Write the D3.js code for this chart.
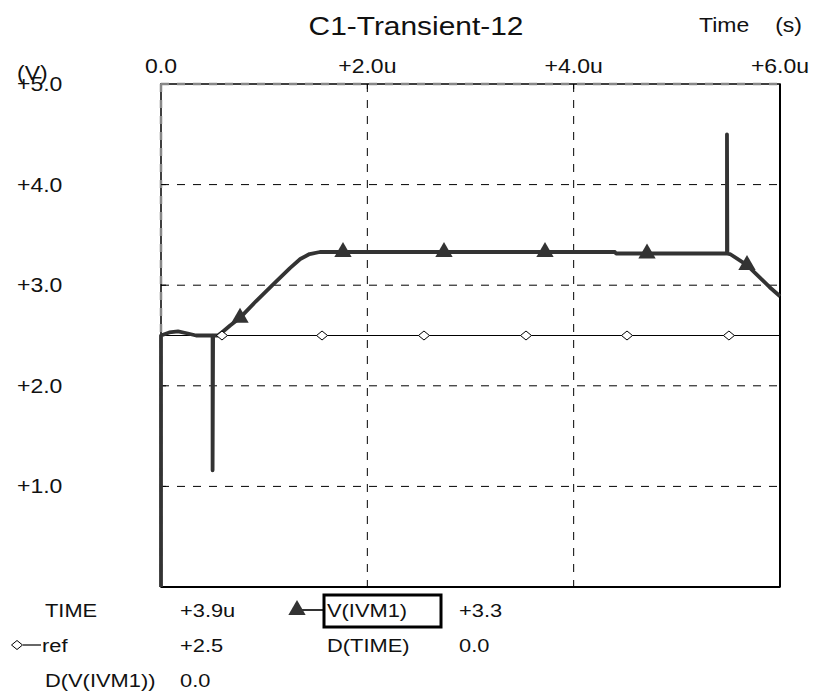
<!DOCTYPE html>
<html>
<head>
<meta charset="utf-8">
<script src="https://cdn.jsdelivr.net/npm/d3@7"></script>
<style>
  body { margin: 0; background: #fff; }
  text { font-family: "Liberation Sans", Arial, sans-serif; fill: #111; }
</style>
</head>
<body>
<svg id="chart"></svg>
<script>
const width = 814;
const height = 693;

// axis data (time in microseconds, voltage in volts)
const timeTicks = [0, 2, 4, 6];
const timeTickLabels = ["0.0", "+2.0u", "+4.0u", "+6.0u"];
const voltTicks = [1, 2, 3, 4, 5];
const voltTickLabels = ["+1.0", "+2.0", "+3.0", "+4.0", "+5.0"];

// V(IVM1) waveform
const vTime = [0, 0, 0.08, 0.165, 0.26, 0.34, 0.50, 0.50, 0.505, 0.55, 0.59, 0.67, 0.77, 0.92, 1.08, 1.25, 1.35, 1.44, 1.54, 4.40, 4.41, 5.486, 5.486, 5.49, 5.515, 5.68, 5.81, 5.90, 6.0];
const vVolt = [0, 2.5, 2.53, 2.54, 2.52, 2.5, 2.5, 1.16, 2.5, 2.5, 2.53, 2.6, 2.68, 2.84, 3.0, 3.17, 3.26, 3.31, 3.33, 3.33, 3.315, 3.315, 4.5, 3.315, 3.31, 3.2, 3.07, 2.98, 2.89];
const vMarkerTime = [0.766, 1.764, 2.743, 3.722, 4.711, 5.68];

// ref waveform
const refTime = [0, 6];
const refVolt = [2.5, 2.5];
const refMarkerTime = [0.591, 1.561, 2.549, 3.538, 4.517, 5.505];

// cursor readout
const readRow1 = ["TIME", "+3.9u", "V(IVM1)", "+3.3"];
const readRow2 = ["ref", "+2.5", "D(TIME)", "0.0"];
const readRow3 = ["D(V(IVM1))", "0.0"];

const plot = { left: 161, right: 780, top: 84, bottom: 587 };
const stretch = 1.15;
const waveColor = "#333";

const svg = d3.select("#chart").attr("width", width).attr("height", height);

const x = d3.scaleLinear().domain([0, 6]).range([plot.left, plot.right]);
const y = d3.scaleLinear().domain([0, 5]).range([plot.bottom, plot.top]);

function label(g, str, px, py, anchor, size) {
  return g.append("text")
    .attr("transform", `translate(${px},${py}) scale(${stretch},1)`)
    .attr("text-anchor", anchor)
    .attr("font-size", size + "px")
    .text(str);
}

// grid
const grid = svg.append("g");
grid.selectAll(".vgrid")
  .data(timeTicks.filter(t => t > 0 && t < 6))
  .join("line")
  .attr("x1", d => x(d)).attr("x2", d => x(d))
  .attr("y1", plot.top).attr("y2", plot.bottom)
  .attr("stroke", "#000").attr("stroke-width", 1).attr("stroke-dasharray", "8,8");
grid.selectAll(".hgrid")
  .data(voltTicks.filter(v => v < 5))
  .join("line")
  .attr("x1", plot.left).attr("x2", plot.right)
  .attr("y1", d => y(d)).attr("y2", d => y(d))
  .attr("stroke", "#000").attr("stroke-width", 1).attr("stroke-dasharray", "8,8");

// frame
svg.append("rect")
  .attr("x", plot.left).attr("y", plot.top)
  .attr("width", plot.right - plot.left).attr("height", plot.bottom - plot.top)
  .attr("fill", "none").attr("stroke", "#000").attr("stroke-width", 1.5);
svg.append("line")
  .attr("x1", plot.left).attr("x2", plot.right).attr("y1", plot.top).attr("y2", plot.top)
  .attr("stroke", "#888").attr("stroke-width", 2.5).attr("stroke-dasharray", "8,8");
svg.append("line")
  .attr("x1", plot.left).attr("x2", plot.left).attr("y1", plot.top).attr("y2", plot.bottom)
  .attr("stroke", "#888").attr("stroke-width", 2.5).attr("stroke-dasharray", "8,8");
svg.append("line")
  .attr("x1", plot.right).attr("x2", plot.right).attr("y1", plot.top).attr("y2", plot.bottom)
  .attr("stroke", "#000").attr("stroke-width", 2);
svg.append("line")
  .attr("x1", plot.left).attr("x2", plot.right).attr("y1", plot.bottom).attr("y2", plot.bottom)
  .attr("stroke", "#000").attr("stroke-width", 2);

// small ticks
svg.selectAll(".xt")
  .data(timeTicks.filter(t => t > 0 && t < 6))
  .join("line")
  .attr("x1", d => x(d)).attr("x2", d => x(d))
  .attr("y1", plot.top).attr("y2", plot.top + 5)
  .attr("stroke", "#000");
svg.selectAll(".yt")
  .data(voltTicks.filter(v => v < 5))
  .join("line")
  .attr("x1", plot.left).attr("x2", plot.left + 5)
  .attr("y1", d => y(d)).attr("y2", d => y(d))
  .attr("stroke", "#000");

// tick labels
timeTicks.forEach((t, i) => label(svg, timeTickLabels[i], x(t), 73, "middle", 20));
voltTicks.forEach((v, i) => label(svg, voltTickLabels[i], 17, y(v) + 7, "start", 20));
label(svg, "(V)", 17, 80, "start", 20);

// title
label(svg, "C1-Transient-12", 416, 35, "middle", 26);
label(svg, "Time", 699, 32, "start", 20);
label(svg, "(s)", 802, 32, "end", 20);

// waveforms
const line = d3.line().x(d => x(d[0])).y(d => y(d[1]));

svg.append("path")
  .datum(d3.zip(refTime, refVolt))
  .attr("d", line)
  .attr("fill", "none").attr("stroke", "#000").attr("stroke-width", 1.2);

svg.append("path")
  .datum(d3.zip(vTime, vVolt))
  .attr("d", line)
  .attr("fill", "none").attr("stroke", waveColor)
  .attr("stroke-width", 3.8).attr("stroke-linejoin", "round");

// value of V(IVM1) at a given time, from the series
function vAt(t) {
  const i = d3.bisectRight(vTime, t);
  const t0 = vTime[i - 1], t1 = vTime[i];
  return vVolt[i - 1] + (vVolt[i] - vVolt[i - 1]) * (t - t0) / (t1 - t0);
}

const tri = d3.symbol(d3.symbolTriangle, 130);
svg.selectAll(".vmark")
  .data(vMarkerTime)
  .join("path")
  .attr("d", tri)
  .attr("transform", d => `translate(${x(d)},${y(vAt(d))})`)
  .attr("fill", waveColor);

const diamond = "M-5.5,0L0,-4.5L5.5,0L0,4.5Z";
svg.selectAll(".rmark")
  .data(refMarkerTime)
  .join("path")
  .attr("d", diamond)
  .attr("transform", d => `translate(${x(d)},${y(2.5)})`)
  .attr("fill", "#fff").attr("stroke", "#000").attr("stroke-width", 1);

// cursor readout
const rows = [610, 645, 680];
const cols = [45, 180, 327, 459];
const leg = svg.append("g");
readRow1.forEach((s, i) => label(leg, s, cols[i], rows[0] + 7, "start", 19));
readRow2.forEach((s, i) => label(leg, s, i === 0 ? 42 : cols[i], rows[1] + 7, "start", 19));
readRow3.forEach((s, i) => label(leg, s, cols[i], rows[2] + 7, "start", 19));

leg.append("path")
  .attr("d", tri)
  .attr("transform", `translate(297,${rows[0]})`)
  .attr("fill", waveColor);
leg.append("line")
  .attr("x1", 300).attr("x2", 324).attr("y1", rows[0]).attr("y2", rows[0])
  .attr("stroke", waveColor).attr("stroke-width", 2);
leg.append("rect")
  .attr("x", 324).attr("y", 595).attr("width", 117).attr("height", 32)
  .attr("fill", "none").attr("stroke", "#000").attr("stroke-width", 3);

leg.append("path")
  .attr("d", diamond)
  .attr("transform", `translate(17,${rows[1]})`)
  .attr("fill", "#fff").attr("stroke", "#000");
leg.append("line")
  .attr("x1", 23).attr("x2", 41).attr("y1", rows[1]).attr("y2", rows[1])
  .attr("stroke", "#000").attr("stroke-width", 1.2);
</script>
</body>
</html>
